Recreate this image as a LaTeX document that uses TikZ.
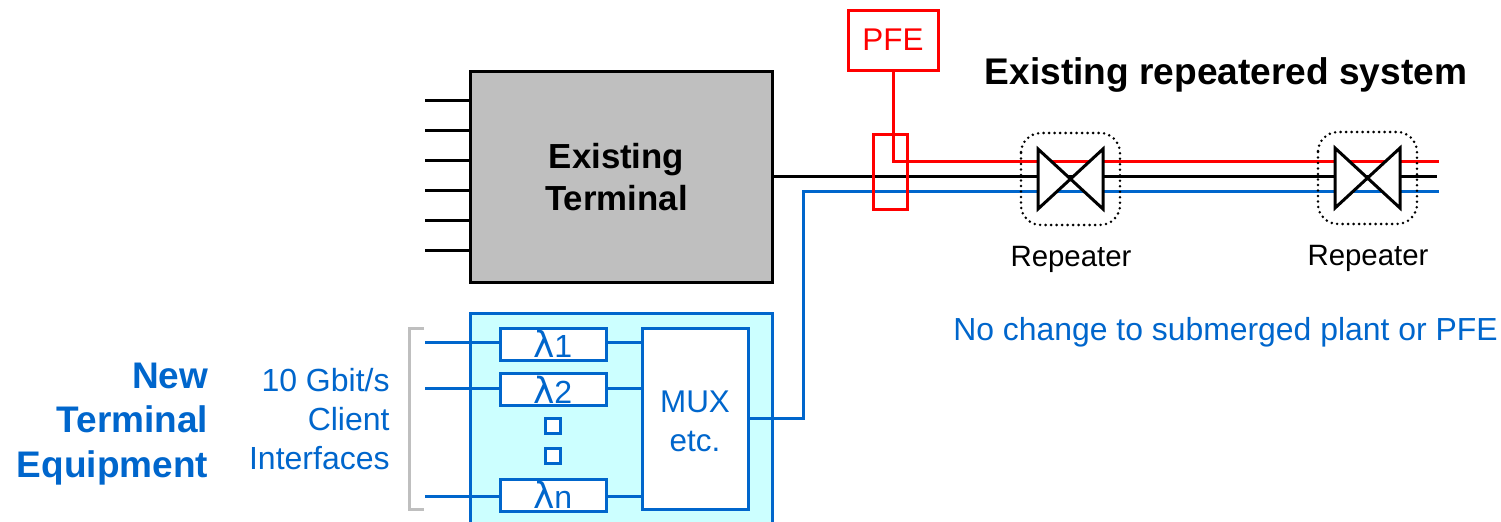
\documentclass[tikz,border=0pt]{standalone}
\usepackage{fontspec}
\setmainfont{Liberation Sans}
\newfontfamily\lamfont{DejaVu Sans}
\definecolor{netblue}{HTML}{0066CC}
\definecolor{pfered}{HTML}{FF0000}
\definecolor{lightcy}{HTML}{CCFFFF}
\definecolor{bracketgray}{HTML}{BFBFBF}
\definecolor{termgray}{HTML}{BFBFBF}
\newcommand{\lam}[1]{\raisebox{-1.2pt}{{\lamfont\fontsize{18}{18}\selectfont λ}\kern-0.4pt\fontsize{16}{16}\selectfont #1}}
\tikzset{
  x=0.5pt,y=-0.5pt,
  boxbase/.style={rectangle,inner sep=0pt,outer sep=0pt,draw,line width=1.5pt},
  bluebox/.style={boxbase,draw=netblue,fill=white,text=netblue,font=\fontsize{15.7}{19.5}\selectfont,align=center},
  bluewire/.style={draw=netblue,line width=1.5pt},
  redwire/.style={draw=pfered,line width=1.5pt},
  blackwire/.style={draw=black,line width=1.5pt},
  graybracket/.style={draw=bracketgray,line width=1.5pt},
  dotbox/.style={draw=black,line width=1.4pt,line cap=round,dash pattern=on 0pt off 2.75pt,rounded corners=10pt},
  bow/.style={draw=black,fill=white,line width=1.5pt,line join=miter},
  bluetext/.style={text=netblue,inner sep=0pt},
  blacktext/.style={text=black,inner sep=0pt},
}
\begin{document}
\begin{tikzpicture}
\clip (0,0) rectangle (1501,521);
% existing terminal
\node[boxbase,draw=black,fill=termgray,minimum width=151pt,minimum height=105.5pt] (term) at (621,176.5) {};
\node[blacktext,align=center,font=\fontsize{17.4}{21}\bfseries\selectfont] (termt) at (616.5,177) {Existing\\Terminal};
\foreach \i/\y in {1/100.5,2/130.5,3/160.5,4/190.5,5/220.5,6/250.5}{
  \coordinate (s\i) at (425,\y);
  \draw[blackwire] (s\i) -- (s\i -| term.west);
}
% new terminal box
\node[boxbase,draw=netblue,fill=lightcy,minimum width=151pt,minimum height=109pt] (newt) at (621,422) {};
\node[bluebox,minimum width=53pt,minimum height=16pt] (l1) at (553,344) {\lam{1}};
\node[bluebox,minimum width=53pt,minimum height=16pt] (l2) at (553,389.5) {\lam{2}};
\node[bluebox,minimum width=53pt,minimum height=16pt] (ln) at (553,495) {\lam{n}};
\node[bluebox,minimum size=7.5pt] (d1) at (553,426) {};
\node[bluebox,minimum size=7.5pt] (d2) at (553,456) {};
\node[bluebox,minimum width=53pt,minimum height=90.5pt] (mux) at (695,418.5) {};
\node[bluetext,align=center,font=\fontsize{15.7}{19.5}\selectfont] (muxt) at (695,421) {MUX\\etc.};
% client wires
\coordinate (c1) at (425,342.5);
\coordinate (c2) at (425,388);
\coordinate (cn) at (425,496);
\draw[bluewire] (c1) -- (c1 -| l1.west);
\draw[bluewire] (c2) -- (c2 -| l2.west);
\draw[bluewire] (cn) -- (cn -| ln.west);
\draw[bluewire] (c1 -| l1.east) -- (c1 -| mux.west);
\draw[bluewire] (c2 -| l2.east) -- (c2 -| mux.west);
\draw[bluewire] (cn -| ln.east) -- (cn -| mux.west);
% bracket
\coordinate (bt) at (424,328);
\coordinate (bb) at (424,509);
\draw[graybracket] (bt) -- (409,328) -- (409,509) -- (bb);
% main lines
\coordinate (rEnd) at (1439,161);
\coordinate (kEnd) at (1437,176.5);
\coordinate (bEnd) at (1439,191.5);
\node[boxbase,draw=pfered,text=pfered,minimum width=45pt,minimum height=30pt,font=\fontsize{15.7}{18}\selectfont] (pfe) at (893,40) {PFE};
\draw[redwire] (pfe.south) |- (rEnd);
\draw[blackwire] (term.east |- kEnd) -- (kEnd);
\draw[bluewire] (mux.east) -| (803,191.5) -- (bEnd);
\node[boxbase,draw=pfered,minimum width=17pt,minimum height=37.5pt] (tap) at (890,171.5) {};
% repeaters
\node[draw=none,inner sep=0pt,minimum size=0pt] (r1) at (1070.5,179) {};
\node[draw=none,inner sep=0pt,minimum size=0pt] (r2) at (1367.5,178) {};
\foreach \r in {r1,r2}{
  \draw[bow] ([shift={(-32.5,-30)}]\r.center) -- ([shift={(32.5,30)}]\r.center) -- ([shift={(32.5,-30)}]\r.center) -- ([shift={(-32.5,30)}]\r.center) -- cycle;
  \draw[dotbox] ([shift={(-49.5,-46)}]\r.center) rectangle ([shift={(49.5,46)}]\r.center);
}
\node[blacktext,font=\fontsize{14.7}{17}\selectfont] (r1t) at (1071,259.5) {Repeater};
\node[blacktext,font=\fontsize{14.7}{17}\selectfont] (r2t) at (1368,258.5) {Repeater};
% labels
\node[blacktext,font=\fontsize{18.55}{22}\bfseries\selectfont] (title) at (1226,75) {Existing repeatered system};
\node[bluetext,font=\fontsize{15.95}{18}\selectfont] (nochg) at (1225.5,332) {No change to submerged plant or PFE};
\node[bluetext,align=right,anchor=east,font=\fontsize{18.5}{22.3}\bfseries\selectfont] (newlab) at (208.5,424) {New\\Terminal\\Equipment};
\node[bluetext,align=right,anchor=east,font=\fontsize{16}{19.5}\selectfont] (cli) at (390,419) {10 Gbit/s\\Client\\Interfaces};
\end{tikzpicture}
\end{document}
